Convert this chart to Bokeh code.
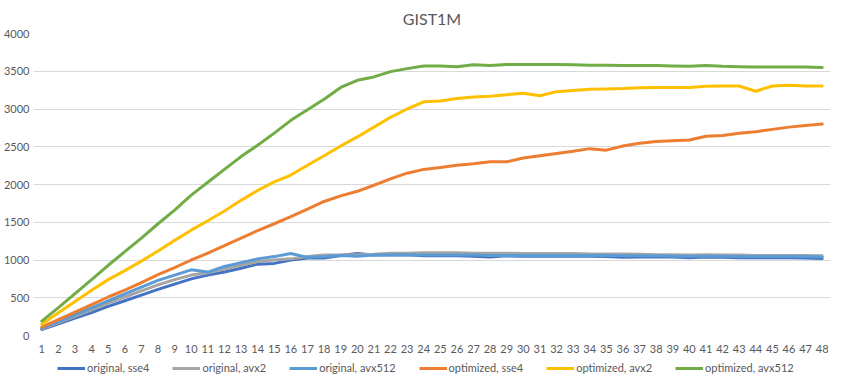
from bokeh.plotting import figure
from bokeh.layouts import column
from bokeh.models import Range1d, FixedTicker, Legend, LegendItem
from bokeh.embed import file_html
from bokeh.resources import INLINE

x_vals = list(range(1, 49))
y_ticks = [0, 500, 1000, 1500, 2000, 2500, 3000, 3500, 4000]

series_names = ["original, sse4", "original, avx2", "original, avx512",
                "optimized, sse4", "optimized, avx2", "optimized, avx512"]

orig_sse4 = [80, 155, 230, 305, 385, 460, 535, 610, 680, 750,
             800, 840, 890, 945, 955, 1000, 1025, 1025, 1060, 1085,
             1065, 1065, 1070, 1055, 1055, 1055, 1050, 1040, 1055, 1050,
             1050, 1050, 1050, 1050, 1045, 1035, 1040, 1040, 1040, 1030,
             1040, 1035, 1030, 1030, 1030, 1030, 1025, 1020]
orig_avx2 = [85, 170, 255, 340, 430, 510, 590, 670, 740, 800,
             830, 880, 930, 980, 1000, 1015, 1045, 1065, 1065, 1070,
             1075, 1090, 1090, 1095, 1095, 1095, 1090, 1090, 1090, 1085,
             1085, 1085, 1085, 1080, 1080, 1080, 1075, 1070, 1070, 1065,
             1070, 1065, 1065, 1060, 1060, 1060, 1060, 1055]
orig_avx512 = [95, 185, 275, 365, 460, 550, 640, 730, 800, 870,
               840, 915, 965, 1015, 1045, 1085, 1035, 1045, 1060, 1050,
               1065, 1070, 1070, 1065, 1065, 1065, 1065, 1060, 1060, 1060,
               1060, 1060, 1060, 1060, 1060, 1055, 1055, 1055, 1050, 1050,
               1050, 1050, 1045, 1045, 1045, 1045, 1045, 1040]
opt_sse4 = [110, 210, 310, 410, 510, 600, 700, 805, 900, 1000,
            1090, 1190, 1290, 1390, 1480, 1575, 1675, 1775, 1850, 1910,
            1990, 2075, 2150, 2200, 2225, 2255, 2275, 2300, 2300, 2350,
            2380, 2410, 2440, 2475, 2455, 2510, 2545, 2570, 2580, 2590,
            2640, 2650, 2680, 2700, 2730, 2760, 2780, 2800]
opt_avx2 = [150, 300, 450, 600, 740, 860, 985, 1120, 1260, 1395,
            1520, 1650, 1790, 1920, 2035, 2125, 2255, 2380, 2510, 2630,
            2760, 2890, 3000, 3095, 3105, 3140, 3160, 3170, 3190, 3210,
            3175, 3230, 3245, 3260, 3265, 3270, 3280, 3285, 3285, 3285,
            3300, 3305, 3305, 3235, 3305, 3315, 3305, 3305]
opt_avx512 = [190, 370, 555, 740, 930, 1110, 1290, 1480, 1660, 1860,
              2030, 2200, 2370, 2520, 2680, 2850, 2990, 3130, 3285, 3380,
              3425, 3495, 3535, 3570, 3570, 3560, 3585, 3575, 3590, 3590,
              3590, 3590, 3585, 3580, 3580, 3575, 3575, 3575, 3570, 3565,
              3575, 3565, 3560, 3555, 3555, 3555, 3555, 3550]

all_series = [orig_sse4, orig_avx2, orig_avx512, opt_sse4, opt_avx2, opt_avx512]
colors = ["#4472C4", "#A5A5A5", "#5B9BD5", "#ED7D31", "#FFC000", "#70AD47"]

FONT = "Lato"
TXT = "#595959"

p = figure(frame_width=797, frame_height=302, output_backend="svg",
           toolbar_location=None,
           x_range=Range1d(0.5, 48.5), y_range=Range1d(0, 4000),
           min_border_left=29, min_border_right=2, min_border_top=26,
           min_border_bottom=0)
p.outline_line_color = None
p.background_fill_color = "white"
p.border_fill_color = "white"

p.title.text = "GIST1M"
p.title.align = "center"
p.title.text_font = FONT
p.title.text_font_size = "16px"
p.title.text_font_style = "normal"
p.title.text_color = TXT
p.title.standoff = 12

p.xaxis.ticker = FixedTicker(ticks=x_vals)
p.yaxis.ticker = FixedTicker(ticks=y_ticks)
for ax in (p.xaxis, p.yaxis):
    ax.axis_line_color = None
    ax.major_tick_line_color = None
    ax.minor_tick_line_color = None
    ax.major_tick_out = 0
    ax.major_tick_in = 0
    ax.major_label_text_font = FONT
    ax.major_label_text_font_size = "11px"
    ax.major_label_text_color = TXT
p.yaxis.major_label_standoff = 4
p.xaxis.major_label_standoff = 9

p.xgrid.grid_line_color = None
p.ygrid.grid_line_color = "#D9D9D9"
p.ygrid.grid_line_width = 1

for ys, c in zip(all_series, colors):
    p.line(x_vals, ys, line_color=c, line_width=3,
           line_join="round", line_cap="round")

# strip below the chart that holds the legend; its series lie outside
# its 0..1 y range, so only the legend entries are visible
lf = figure(width=828, height=20, output_backend="svg", toolbar_location=None,
            x_range=Range1d(0.5, 48.5), y_range=Range1d(0, 1),
            x_axis_type=None, y_axis_type=None,
            min_border_left=0, min_border_right=0, min_border_top=0,
            min_border_bottom=0)
lf.outline_line_color = None
lf.xgrid.visible = False
lf.ygrid.visible = False

items = []
for name, ys, c in zip(series_names, all_series, colors):
    r = lf.line(x_vals, ys, line_color=c, line_width=3, line_cap="butt")
    items.append(LegendItem(label=name, renderers=[r]))

legend = Legend(items=items, orientation="horizontal", location=(24, 1),
                glyph_width=28, glyph_height=12, label_standoff=2, spacing=23,
                padding=2, margin=0, border_line_color=None,
                background_fill_alpha=0,
                label_text_font=FONT, label_text_font_size="11px",
                label_text_color=TXT)
lf.add_layout(legend, "center")

layout = column(p, lf, spacing=0)
open("out.html", "w").write(file_html(layout, INLINE))
